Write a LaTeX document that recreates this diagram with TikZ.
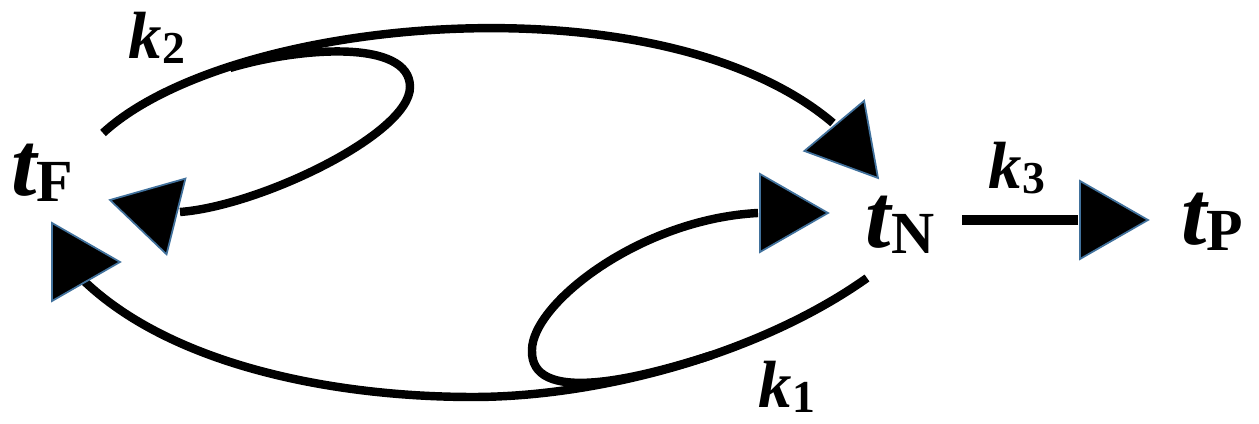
\documentclass[tikz,border=0pt]{standalone}
\usepackage{fontspec}
\setmainfont{Liberation Serif}
\definecolor{HeadEdge}{HTML}{41719C}

% species and rate constant labels
\newcommand{\tname}[1]{{\fontsize{26}{26}\selectfont\bfseries\itshape t}\raisebox{-1.7pt}{\fontsize{17}{17}\selectfont\bfseries #1}}
\newcommand{\kname}[1]{{\fontsize{19}{19}\selectfont\bfseries\itshape k}\raisebox{-1.4pt}{\fontsize{13}{13}\selectfont\bfseries #1}}
% triangular head, tip at #1, pointing to angle #2
\newcommand{\headat}[2]{\filldraw[headtri, shift={(#1)}, rotate=#2] (0,0) -- (-68,39) -- (-68,-39) -- cycle;}

\tikzset{
  flow/.style={line width=2.4pt},
  headtri/.style={fill=black, draw=HeadEdge, line width=0.5pt, line join=miter},
  lab/.style={inner sep=0pt, text=black}
}

\begin{document}
\begin{tikzpicture}[x=0.1mm, y=0.1mm]
  \useasboundingbox (0,0) rectangle (1259,424);

  \node[lab] (tF) at (42,251) {\tname{F}};
  \node[lab] (tN) at (900,199) {\tname{N}};
  \node[lab] (tP) at (1212,202) {\tname{P}};
  \node[lab] (k1) at (787,37) {\kname{1}};
  \node[lab] (k2) at (157,386) {\kname{2}};
  \node[lab] (k3) at (1017,256) {\kname{3}};

  % curve ends
  \coordinate (fTop) at (103,291);
  \coordinate (nTop) at (833,301);
  \coordinate (fLoop) at (230,356);
  \coordinate (fRight) at (410,337);
  \coordinate (fIn) at (180,212);
  \coordinate (nBot) at (867,146);
  \coordinate (low) at (473,27);
  \coordinate (fBot) at (83,144);
  \coordinate (nLoop) at (712,69);
  \coordinate (nLeft) at (532,74);
  \coordinate (nIn) at (758,211);
  \coordinate (nOut) at (962,204);
  \coordinate (pIn) at (1078,204);

  % tips of the heads
  \coordinate (tipN) at (878,246);
  \coordinate (tipF) at (110,224);
  \coordinate (tipFB) at (120,162);
  \coordinate (tipNL) at (828,211);
  \coordinate (tipP) at (1148,204);

  \draw[flow] (fTop) .. controls (230,408) and (660,448) .. (nTop);
  \draw[flow] (fLoop) .. controls (300,377) and (410,385) .. (fRight)
                      .. controls (410,290) and (260,218) .. (fIn);
  \draw[flow] (nBot) .. controls (760,70) and (600,27) .. (low)
                     .. controls (330,27) and (170,60) .. (fBot);
  \draw[flow] (nLoop) .. controls (632,43) and (530,20) .. (nLeft)
                      .. controls (532,120) and (640,205) .. (nIn);
  \draw[line width=3pt] (nOut) -- (pIn);

  \headat{tipN}{-50}
  \headat{tipF}{166}
  \headat{tipFB}{0}
  \headat{tipNL}{0}
  \headat{tipP}{0}
\end{tikzpicture}
\end{document}
